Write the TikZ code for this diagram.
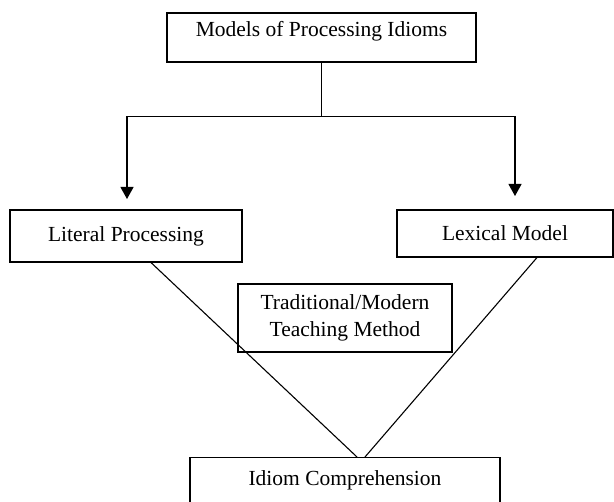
\documentclass[tikz,border=0pt]{standalone}
\usepackage{fontspec}
\setmainfont{Liberation Serif}
\usepackage{tikz}
\usetikzlibrary{arrows.meta,positioning,calc}
\tikzstyle{modelbox} = [rectangle, draw, line width=1.1pt, text centered, inner xsep=0pt, inner ysep=0pt, font=\fontsize{21.5}{27}\selectfont]
\tikzstyle{arrow} = [line width=1.1pt, -{Triangle[length=12pt,width=13pt]}]
\tikzstyle{link} = [line width=1.1pt]

\begin{document}
\begin{tikzpicture}
\useasboundingbox (0,0) rectangle (614pt,-502pt);
% Top node
\node[modelbox, minimum width=309pt, text height=15pt, text depth=16pt, inner ysep=9pt] (models) at (321.5pt,-37.5pt) {Models of Processing Idioms};

% Two models
\node[modelbox, minimum width=232pt, minimum height=52pt] (literal) at (126pt,-236pt) {Literal Processing};
\node[modelbox, minimum width=216pt, minimum height=47pt] (lexical) at (505pt,-233.5pt) {Lexical Model};

% Method in the middle
\node[modelbox, minimum width=214pt, minimum height=68pt, align=center] (method) at (345pt,-318pt) {Traditional/Modern\\Teaching Method};

% Outcome
\node[modelbox, minimum width=310pt, text height=15pt, text depth=29pt, inner ysep=13pt, anchor=north] (idiom) at (345pt,-457pt) {Idiom Comprehension};

% Branching arrows
\coordinate[below=54pt of models.south] (split);
\coordinate (litend) at (127pt,-199pt);
\coordinate (lexend) at (515pt,-196pt);
\draw[link] (models.south) -- (split);
\draw[arrow] (split) -| (litend);
\draw[arrow] (split) -| (lexend);

% Converging lines
\draw[link] ([xshift=25pt]literal.south) -- ([xshift=12pt]idiom.north);
\draw[link] ([xshift=32pt]lexical.south) -- ([xshift=20pt]idiom.north);
\end{tikzpicture}
\end{document}
